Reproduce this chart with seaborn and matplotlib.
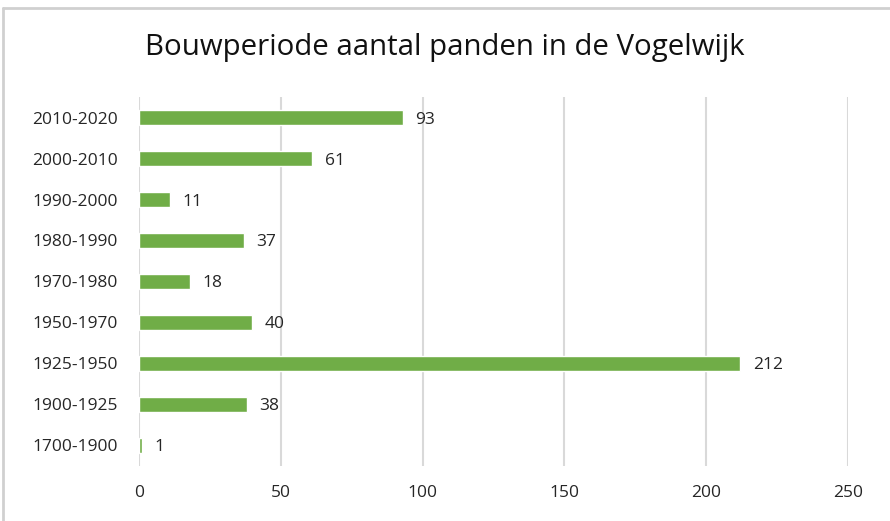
import matplotlib
matplotlib.use("Agg")
import matplotlib.pyplot as plt
from matplotlib.lines import Line2D
import seaborn as sns
import pandas as pd

categories = ["2010-2020", "2000-2010", "1990-2000", "1980-1990", "1970-1980",
              "1950-1970", "1925-1950", "1900-1925", "1700-1900"]
values = [93, 61, 11, 37, 18, 40, 212, 38, 1]
x_ticks = [0, 50, 100, 150, 200, 250]
title = "Bouwperiode aantal panden in de Vogelwijk"

sns.set_theme(style="white")
plt.rcParams['font.family'] = ['Open Sans', 'DejaVu Sans']

df = pd.DataFrame({"periode": categories, "aantal": values})

fig = plt.figure(figsize=(8.9, 5.21), dpi=100)
ax = fig.add_axes([0.1562, 0.1056, 0.7966, 0.7082])

sns.barplot(data=df, y="periode", x="aantal", order=categories, color="#70AD47",
            width=0.35, ax=ax, saturation=1)

ax.set_xlim(0, 250)
ax.set_ylim(len(categories) - 0.5, -0.5)
ax.set_xticks(x_ticks)
ax.set_xticklabels([str(t) for t in x_ticks])
ax.xaxis.grid(True, color="#d9d9d9", linewidth=1.5)
ax.set_axisbelow(True)
for s in ax.spines.values():
    s.set_visible(False)
ax.set_xlabel("")
ax.set_ylabel("")
ax.tick_params(axis="both", length=0, labelsize=12.5, colors="#262626")
ax.tick_params(axis="x", pad=14)
ax.tick_params(axis="y", pad=15)

for i, v in enumerate(values):
    ax.annotate(str(v), xy=(v, i), xytext=(9, 0), textcoords="offset points",
                va="center_baseline", ha="left", fontsize=12.5, color="#262626")

fig.text(0.5, 0.908, title, ha="center", va="center", fontsize=21.2, color="#111111")

fig.add_artist(Line2D([3/890, 1], [1 - 8/521, 1 - 8/521], transform=fig.transFigure,
                      color="#d0d0d0", linewidth=2))
fig.add_artist(Line2D([3/890, 3/890], [0, 1 - 8/521], transform=fig.transFigure,
                      color="#d0d0d0", linewidth=2))

fig.savefig("out.png", dpi=100)
